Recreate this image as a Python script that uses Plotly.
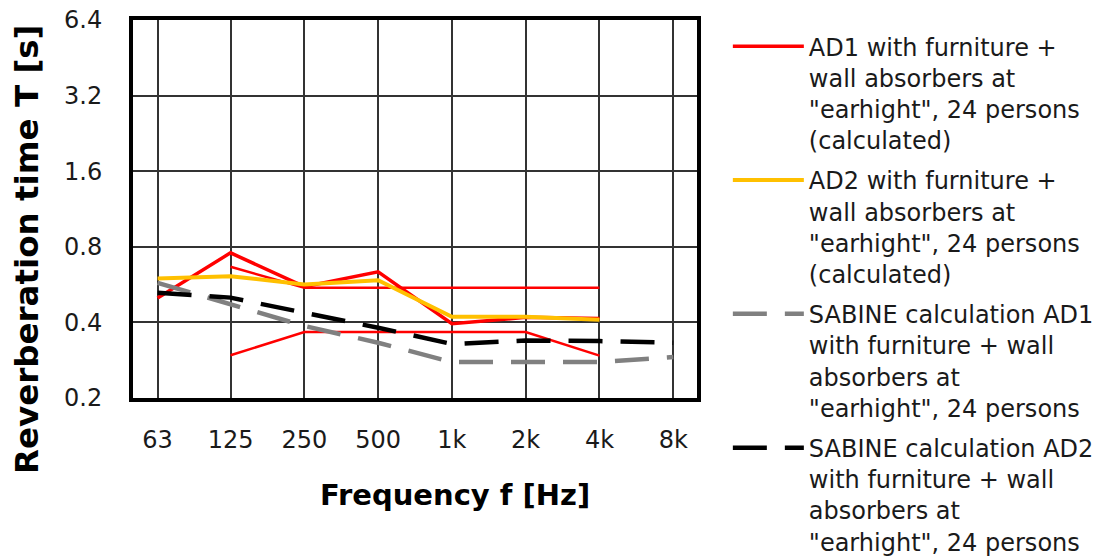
import plotly.graph_objects as go
import math

freq_hz = [63, 125, 250, 500, 1000, 2000, 4000, 8000]
freq_labels = ["63", "125", "250", "500", "1k", "2k", "4k", "8k"]

ad1_calc = [0.50, 0.757, 0.555, 0.636, 0.395, 0.419, 0.415]
ad1_upper = [None, 0.666, 0.55, 0.55, 0.55, 0.55, 0.55]
ad1_lower = [None, 0.296, 0.366, 0.366, 0.366, 0.366, 0.295]
ad2_calc = [0.598, 0.611, 0.566, 0.589, 0.421, 0.421, 0.41]
sabine_ad1 = [0.575, 0.472, 0.387, 0.332, 0.278, 0.278, 0.278, 0.291]
sabine_ad2 = [0.525, 0.502, 0.437, 0.381, 0.328, 0.339, 0.337, 0.332]

y_ticks = [0.2, 0.4, 0.8, 1.6, 3.2, 6.4]

name_ad1 = 'AD1 with furniture +<br>wall absorbers at<br>"earhight", 24 persons<br>(calculated)'
name_ad2 = 'AD2 with furniture +<br>wall absorbers at<br>"earhight", 24 persons<br>(calculated)'
name_s1 = 'SABINE calculation AD1<br>with furniture + wall<br>absorbers at<br>"earhight", 24 persons'
name_s2 = 'SABINE calculation AD2<br>with furniture + wall<br>absorbers at<br>"earhight", 24 persons'

FONT = "DejaVu Sans"
TXT = "#1a1a1a"
fig = go.Figure()
fig.add_trace(go.Scatter(x=freq_hz[:7], y=ad1_upper, mode="lines", showlegend=False,
                         legendgroup="g1", line=dict(color="#FF0000", width=2.5)))
fig.add_trace(go.Scatter(x=freq_hz[:7], y=ad1_lower, mode="lines", showlegend=False,
                         legendgroup="g1", line=dict(color="#FF0000", width=2.5)))
fig.add_trace(go.Scatter(x=freq_hz[:7], y=ad1_calc, mode="lines", name=name_ad1,
                         legendgroup="g1", line=dict(color="#FF0000", width=3.5)))
fig.add_trace(go.Scatter(x=freq_hz[:7], y=ad2_calc, mode="lines", name=name_ad2,
                         legendgroup="g2", line=dict(color="#FFC000", width=4)))
fig.add_trace(go.Scatter(x=freq_hz, y=sabine_ad1, mode="lines", name=name_s1,
                         legendgroup="g3", line=dict(color="#808080", width=4.5, dash="34px,18px")))
fig.add_trace(go.Scatter(x=freq_hz, y=sabine_ad2, mode="lines", name=name_s2,
                         legendgroup="g4", line=dict(color="#000000", width=4.5, dash="34px,18px")))

# page body has an 8px margin: figure is sized so the page matches 1107x559
fig.update_layout(
    width=1099, height=551,
    margin=dict(l=125, r=410, t=12, b=161, autoexpand=False),
    paper_bgcolor="white", plot_bgcolor="white",
    font=dict(family=FONT, size=24, color=TXT),
    legend=dict(x=1.0547, xanchor="left", y=0.989, yanchor="top",
                font=dict(family=FONT, size=24, color=TXT),
                itemwidth=71, valign="top", tracegroupgap=6,
                maxheight=700, bgcolor="rgba(0,0,0,0)"),
)
fig.update_xaxes(
    type="log", range=[math.log10(50), math.log10(10000)],
    tickmode="array", tickvals=freq_hz, ticktext=freq_labels,
    showgrid=True, gridcolor="#333333", gridwidth=1.5,
    showline=True, linecolor="black", linewidth=4, mirror=True,
    ticks="", ticklabelstandoff=17, ticklabeloverflow="allow",
    tickfont=dict(size=24, family=FONT, color=TXT),
    zeroline=False,
)
fig.update_yaxes(
    type="log", range=[math.log10(0.2) - 1e-6, math.log10(6.4) + 1e-6],
    tickmode="array", tickvals=y_ticks, ticktext=[str(v) for v in y_ticks],
    showgrid=True, gridcolor="#333333", gridwidth=1.5,
    showline=True, linecolor="black", linewidth=4, mirror=True,
    ticks="", ticklabelstandoff=22, ticklabeloverflow="allow",
    tickfont=dict(size=24, family=FONT, color=TXT),
    zeroline=False,
)
fig.add_annotation(text="<b>Reverberation time T [s]</b>", textangle=-90,
                   xref="paper", yref="paper", x=-0.188, y=0.394,
                   xanchor="center", yanchor="middle", showarrow=False,
                   font=dict(size=32.5, family=FONT, color="black"))
fig.add_annotation(text="<b>Frequency f [Hz]</b>",
                   xref="paper", yref="paper", x=0.571, y=-0.2566,
                   xanchor="center", yanchor="middle", showarrow=False,
                   font=dict(size=29, family=FONT, color="black"))

fig.write_html("out.html")
